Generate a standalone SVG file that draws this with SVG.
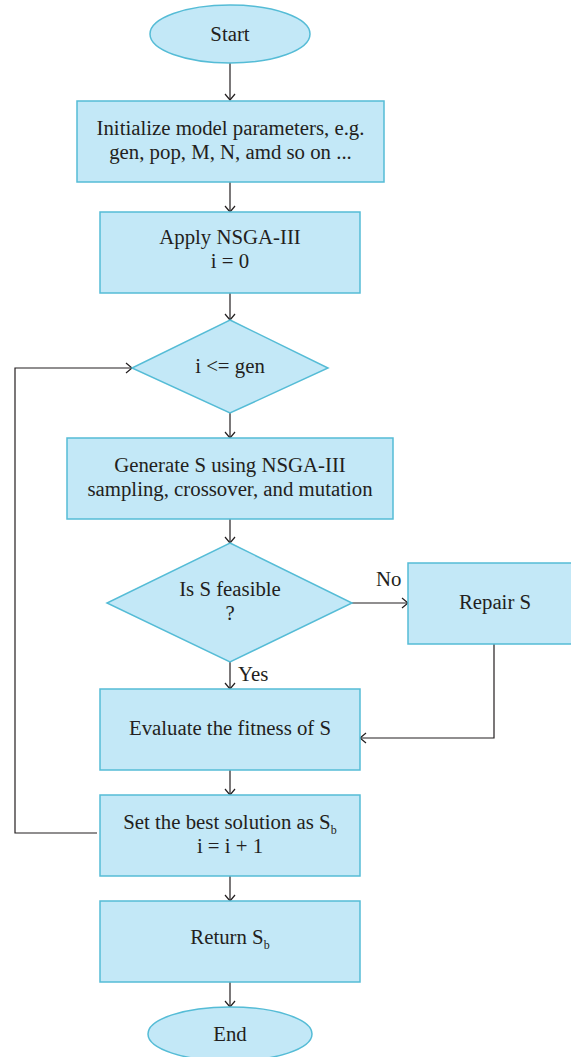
<svg xmlns="http://www.w3.org/2000/svg" width="571" height="1057" viewBox="0 0 571 1057">
<style>
.n{fill:#c3e8f7;stroke:#55bcd6;stroke-width:1.5}
.t{font-family:"Liberation Serif","Times New Roman",serif;font-size:20.8px;fill:#231f20;text-anchor:middle}
.l{font-family:"Liberation Serif","Times New Roman",serif;font-size:20.8px;fill:#231f20}
.sub{font-size:12px}
.c{fill:none;stroke:#231f20;stroke-width:1.2}
</style>
<defs>
<marker id="a" markerUnits="userSpaceOnUse" markerWidth="12" markerHeight="12" viewBox="0 0 12 12" refX="10" refY="6" orient="auto">
<path d="M4,1 L10,6 L4,11" fill="none" stroke="#231f20" stroke-width="1.2"/>
</marker>
</defs>
<rect width="571" height="1057" fill="#ffffff"/>
<g id="connectors">
<line class="c" x1="230" y1="63" x2="230" y2="100" marker-end="url(#a)"/>
<line class="c" x1="230" y1="182" x2="230" y2="212" marker-end="url(#a)"/>
<line class="c" x1="230" y1="293" x2="230" y2="320" marker-end="url(#a)"/>
<line class="c" x1="230" y1="413" x2="230" y2="438" marker-end="url(#a)"/>
<line class="c" x1="230" y1="519" x2="230" y2="543" marker-end="url(#a)"/>
<line class="c" x1="230" y1="662" x2="230" y2="689" marker-end="url(#a)"/>
<line class="c" x1="352" y1="603" x2="408" y2="603" marker-end="url(#a)"/>
<polyline class="c" points="494,644 494,738 360,738" marker-end="url(#a)"/>
<line class="c" x1="230" y1="770" x2="230" y2="795" marker-end="url(#a)"/>
<line class="c" x1="230" y1="876" x2="230" y2="901" marker-end="url(#a)"/>
<line class="c" x1="230" y1="982" x2="230" y2="1007" marker-end="url(#a)"/>
<polyline class="c" points="97,833 15,833 15,368 132,368" marker-end="url(#a)"/>
<text class="l" x="376" y="586">No</text>
<text class="l" x="238" y="681">Yes</text>
</g>
<g id="start">
<ellipse class="n" cx="230" cy="34" rx="80" ry="29"/>
<text class="t" x="230" y="41">Start</text>
</g>
<g id="init">
<rect class="n" x="77" y="101" width="307" height="81"/>
<text class="t" x="230.5" y="135">Initialize model parameters, e.g.</text>
<text class="t" x="230.5" y="159">gen, pop, M, N, amd so on ...</text>
</g>
<g id="apply">
<rect class="n" x="100" y="212" width="260" height="81"/>
<text class="t" x="230" y="244">Apply NSGA-III</text>
<text class="t" x="230" y="268">i = 0</text>
</g>
<g id="cond">
<polygon class="n" points="230,320 328,368 230,413 132,368"/>
<text class="t" x="230" y="373">i &lt;= gen</text>
</g>
<g id="generate">
<rect class="n" x="67" y="438" width="326" height="81"/>
<text class="t" x="230" y="472">Generate S using NSGA-III</text>
<text class="t" x="230" y="496">sampling, crossover, and mutation</text>
</g>
<g id="feasible">
<polygon class="n" points="230,543 352,603 230,662 107,603"/>
<text class="t" x="230" y="596">Is S feasible</text>
<text class="t" x="230" y="620">?</text>
</g>
<g id="repair">
<rect class="n" x="408" y="563" width="170" height="81"/>
<text class="t" x="495" y="609">Repair S</text>
</g>
<g id="evaluate">
<rect class="n" x="100" y="689" width="260" height="81"/>
<text class="t" x="230" y="735">Evaluate the fitness of S</text>
</g>
<g id="setbest">
<rect class="n" x="100" y="795" width="260" height="81"/>
<text class="t" x="230" y="829">Set the best solution as S<tspan class="sub" dy="5">b</tspan></text>
<text class="t" x="230" y="853">i = i + 1</text>
</g>
<g id="return">
<rect class="n" x="100" y="901" width="260" height="81"/>
<text class="t" x="230" y="944">Return S<tspan class="sub" dy="5">b</tspan></text>
</g>
<g id="end">
<ellipse class="n" cx="230" cy="1034" rx="82" ry="27"/>
<text class="t" x="230" y="1041">End</text>
</g>
</svg>
